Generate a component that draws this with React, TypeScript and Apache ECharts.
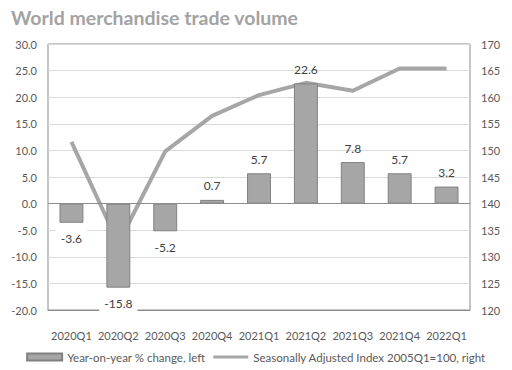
import React, { useEffect, useRef } from "react";
import * as echarts from "echarts";

const categories = ["2020Q1", "2020Q2", "2020Q3", "2020Q4", "2021Q1", "2021Q2", "2021Q3", "2021Q4", "2022Q1"];
const yoyChange = [-3.6, -15.8, -5.2, 0.7, 5.7, 22.6, 7.8, 5.7, 3.2];
const indexValues = [151.6, 132.5, 149.8, 156.5, 160.4, 162.7, 161.2, 165.4, 165.4];
const barName = "Year-on-year % change, left";
const lineName = "Seasonally Adjusted Index 2005Q1=100, right";
const titleText = "World merchandise trade volume";

const FONT = "Lato, 'Open Sans', sans-serif";
const TXT = "#595959";
const LINE_ICON = "path://M0,0 L0.01,0 L0.01,0.01 Z M0,2 L35,2 L35,5 L0,5 Z M34.99,7 L35,7 L35,6.99 Z";

export default function App() {
  const ref = useRef<HTMLDivElement>(null);
  useEffect(() => {
    document.body.style.margin = "0";
    const chart = echarts.init(ref.current!, null, { renderer: "svg" });
    chart.setOption({
      animation: false,
      backgroundColor: "#ffffff",
      textStyle: { fontFamily: FONT },
      title: {
        text: titleText,
        left: 6,
        top: 2,
        textStyle: { fontFamily: FONT, fontSize: 19.5, fontWeight: "bold", color: "#a3a3a3" },
      },
      grid: { left: 48, right: 42, top: 44, bottom: 60, show: true, borderColor: "#8c8c8c", borderWidth: 1, backgroundColor: "transparent" },
      legend: {
        bottom: 2,
        left: "center",
        itemWidth: 35,
        itemHeight: 7,
        itemGap: 8,
        textStyle: { color: TXT, fontSize: 11.5, fontFamily: FONT },
        data: [
          { name: barName, icon: "rect" },
          { name: lineName, icon: LINE_ICON },
        ],
      },
      xAxis: {
        type: "category",
        data: categories,
        axisLine: { onZero: false, lineStyle: { color: "#8c8c8c" } },
        axisTick: { show: false },
        axisLabel: { color: TXT, fontSize: 11, margin: 20, fontFamily: FONT, interval: 0 },
      },
      yAxis: [
        {
          type: "value",
          min: -20,
          max: 30,
          interval: 5,
          axisLine: { show: false },
          axisTick: { show: false },
          splitLine: { lineStyle: { color: "#d9d9d9", width: 1 } },
          axisLabel: { color: TXT, fontSize: 11, margin: 11, fontFamily: FONT, formatter: (v: number) => v.toFixed(1) },
        },
        {
          type: "value",
          min: 120,
          max: 170,
          interval: 5,
          axisLine: { show: false },
          axisTick: { show: false },
          splitLine: { show: false },
          axisLabel: { color: TXT, fontSize: 11, margin: 11, fontFamily: FONT },
        },
      ],
      series: [
        {
          name: lineName,
          type: "line",
          yAxisIndex: 1,
          data: indexValues,
          symbol: "none",
          z: 1,
          lineStyle: { color: "#a6a6a6", width: 4 },
          itemStyle: { color: "#a6a6a6" },
        },
        {
          name: barName,
          type: "bar",
          yAxisIndex: 0,
          barWidth: "51%",
          z: 3,
          itemStyle: { color: "#a6a6a6", borderColor: "#808080", borderWidth: 1 },
          data: yoyChange.map((v) => ({
            value: v,
            label: v < 0
              ? { position: "bottom", backgroundColor: "#ffffff", padding: [3, 5], distance: 7 }
              : { position: "top", distance: 8 },
          })),
          label: {
            show: true,
            color: "#404040",
            fontSize: 12,
            fontFamily: FONT,
            formatter: (p: any) => Number(p.value).toFixed(1),
          },
          markLine: {
            silent: true,
            symbol: "none",
            label: { show: false },
            lineStyle: { color: "#8c8c8c", type: "solid", width: 1 },
            data: [{ yAxis: 0 }],
          },
        },
      ],
    });
    return () => chart.dispose();
  }, []);
  return <div ref={ref} style={{ position: "absolute", left: 0, top: 0, width: 512, height: 370 }} />;
}
